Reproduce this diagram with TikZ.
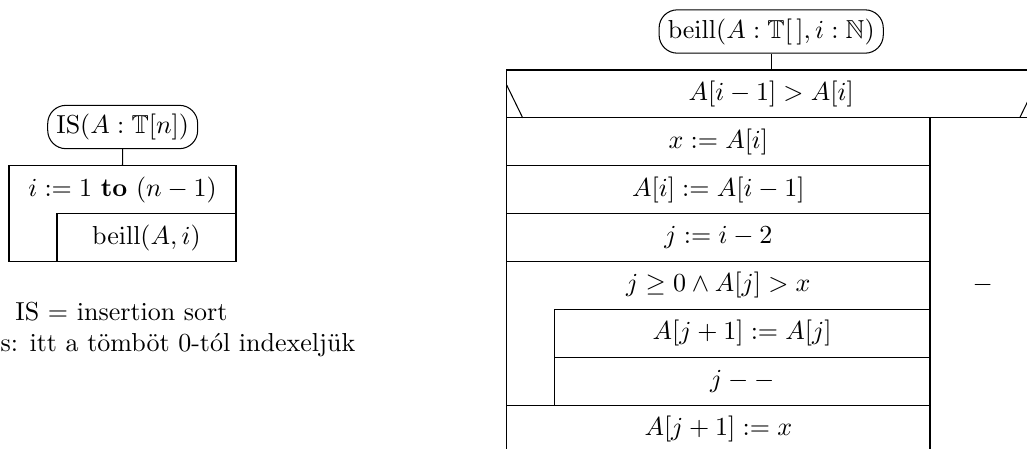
\documentclass[tikz,border=0pt]{standalone}
\usepackage{amssymb}
\begin{document}
\begin{tikzpicture}[x=0.3846pt,y=-0.3846pt,
  cell/.style={draw, rectangle, inner sep=0pt},
  head/.style={draw, rectangle, rounded corners=7pt},
  lbl/.style={inner sep=0pt}]
\useasboundingbox (0,0) rectangle (1027,448);
\clip (0,0) rectangle (1027,448);

% ---------- left structogram ----------
\node[head] (lhead) at (122.7,127) {$\mathrm{IS}(A:\mathbb{T}[n])$};
\node[cell, minimum width=87.30pt, minimum height=36.92pt] (lloop) at (122.5,213.7) {};
\node[lbl] (lloopt) at (122.5,189.7) {$i:=1\ \mathbf{to}\ (n-1)$};
\node[cell, minimum width=68.84pt, minimum height=18.46pt] (lcall) at (146.5,237.7) {$\mathrm{beill}(A,i)$};
\draw (lhead.south) -- (lloop.north);

\node[lbl, anchor=base] (note1) at (121.5,320) {IS $=$ insertion sort};
\node[lbl, anchor=base west] (note2) at (0,351.7) {s: itt a tömböt 0-tól indexeljük};

% ---------- right structogram ----------
\node[head] (rhead) at (771.2,31.5) {$\mathrm{beill}(A:\mathbb{T}[\,],i:\mathbb{N})$};
\node[cell, minimum width=203.45pt, minimum height=18.41pt] (ifhead) at (771.2,93.93) {$A[i-1]>A[i]$};
\draw (rhead.south) -- (ifhead.north);
\draw (506.7,85) -- (522.7,117.86);
\draw (1035.7,85) -- (1019.7,117.86);

\node[cell, minimum width=162.80pt, minimum height=18.41pt] (r1) at (718.35,141.79) {$x:=A[i]$};
\node[cell, minimum width=162.80pt, minimum height=18.41pt] (r2) at (718.35,189.65) {$A[i]:=A[i-1]$};
\node[cell, minimum width=162.80pt, minimum height=18.41pt] (r3) at (718.35,237.51) {$j:=i-2$};
\node[cell, minimum width=162.80pt, minimum height=55.22pt] (wloop) at (718.35,333.23) {};
\node[lbl] (wloopt) at (718.35,285.37) {$j\geq 0\land A[j]>x$};
\node[cell, minimum width=144.49pt, minimum height=18.41pt] (w1) at (742.15,333.23) {$A[j+1]:=A[j]$};
\node[cell, minimum width=144.49pt, minimum height=18.41pt] (w2) at (742.15,381.09) {$j--$};
\node[cell, minimum width=162.80pt, minimum height=18.41pt] (r4) at (718.35,428.95) {$A[j+1]:=x$};
\node[cell, minimum width=40.65pt, minimum height=128.85pt] (fbr) at (982.85,285.37) {$-$};
\end{tikzpicture}
\end{document}
